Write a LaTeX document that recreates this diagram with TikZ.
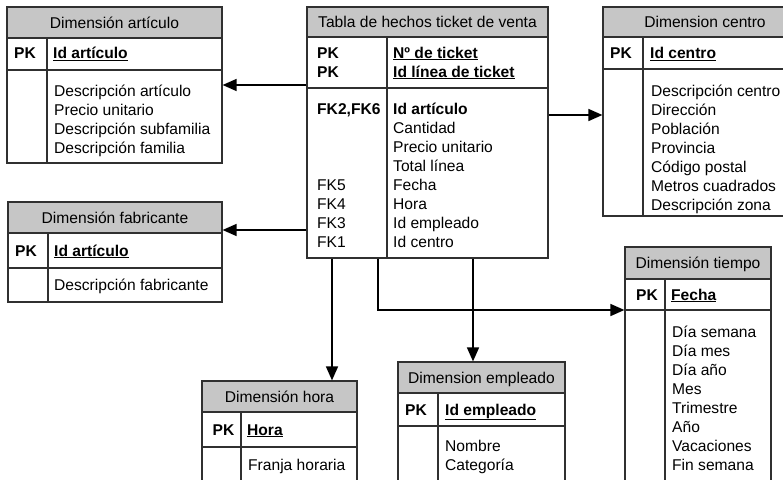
\documentclass[tikz,border=0pt]{standalone}
\usepackage{fontspec}
\setmainfont{Liberation Sans}
\usetikzlibrary{arrows.meta,fit}

\definecolor{hdrgray}{HTML}{C6C6C6}
\definecolor{edgegray}{HTML}{303030}

\newcommand{\tabfont}{\fontsize{15.6}{19}\selectfont}
\newcommand{\keyf}[1]{\textbf{\underline{#1}}}

\tikzset{
  tabframe/.style={draw=edgegray, line width=1.2pt, rectangle, inner sep=0pt},
  tabline/.style={draw=edgegray, line width=1.2pt},
  hdrfill/.style={fill=hdrgray},
  hdrtext/.style={anchor=base, inner sep=0pt, font=\tabfont},
  rowtext/.style={anchor=base west, inner sep=0pt, font=\tabfont},
  link/.style={draw=black, line width=1.5pt, -{Triangle[length=14pt,width=12pt]}}
}

% table frame: name, left, right, top, header bottom, key bottom, bottom, divider
\newcommand{\ertab}[8]{%
  \path[hdrfill] (#2,#4) rectangle (#3,#5);
  \node[tabframe, fit={(#2,#4) (#3,#7)}] (#1) {};
  \draw[tabline] (#2,#5) -- (#3,#5) (#2,#6) -- (#3,#6) (#8,#5) -- (#8,#7);
}

% stacked rows of text: prefix, x, first baseline, list
\newcommand{\tabrows}[4]{%
  \foreach \txt [count=\i] in {#4} {
    \node[rowtext] (#1-\i) at (#2, {#3+19*(\i-1)}) {\txt};
  }%
}

\begin{document}
\begin{tikzpicture}[x=1pt,y=-1pt]
\path[use as bounding box, clip] (0,0) rectangle (783,479);
\fill[white] (0,0) rectangle (783,479);

% ---------- fact table ----------
\ertab{fact}{307}{548}{7}{37}{88}{258}{387}
\node[hdrtext] (fact-h) at (427.5,27.6) {Tabla de hechos ticket de venta};
\tabrows{factpk}{317}{58}{\textbf{PK},\textbf{PK}}
\tabrows{factkey}{393}{58}{\keyf{Nº de ticket},\keyf{Id línea de ticket}}
\node[rowtext] (fact-fk26) at (317,114.5) {\textbf{FK2,FK6}};
\tabrows{factfk}{317}{190.5}{FK5,FK4,FK3,FK1}
\tabrows{factcol}{393}{114.5}{\textbf{Id artículo},Cantidad,Precio unitario,Total línea,Fecha,Hora,Id empleado,Id centro}

% ---------- Dimensión artículo ----------
\ertab{art}{7}{222}{7}{38}{70}{163}{47}
\node[hdrtext] (art-h) at (114.5,28) {Dimensión artículo};
\node[rowtext] (art-pk) at (14,58.5) {\textbf{PK}};
\node[rowtext] (art-key) at (53,58.5) {\keyf{Id artículo}};
\tabrows{artcol}{54}{96}{Descripción artículo,Precio unitario,Descripción subfamilia,Descripción familia}

% ---------- Dimensión fabricante ----------
\ertab{fab}{8}{222}{202}{233}{268}{302}{48}
\node[hdrtext] (fab-h) at (115,223) {Dimensión fabricante};
\node[rowtext] (fab-pk) at (15,256) {\textbf{PK}};
\node[rowtext] (fab-key) at (54,256) {\keyf{Id artículo}};
\tabrows{fabcol}{54}{290.6}{Descripción fabricante}

% ---------- Dimension centro ----------
\ertab{cen}{603}{807}{7}{37}{69}{216}{643}
\node[hdrtext] (cen-h) at (705,27.6) {Dimension centro};
\node[rowtext] (cen-pk) at (610,58.5) {\textbf{PK}};
\node[rowtext] (cen-key) at (650,58.5) {\keyf{Id centro}};
\tabrows{cencol}{651}{96.5}{Descripción centro,Dirección,Población,Provincia,Código postal,Metros cuadrados,Descripción zona}

% ---------- Dimensión tiempo ----------
\ertab{tie}{625}{771}{247}{279}{310}{495}{665}
\node[hdrtext] (tie-h) at (698,268.6) {Dimensión tiempo};
\node[rowtext] (tie-pk) at (636,300) {\textbf{PK}};
\node[rowtext] (tie-key) at (671,300) {\keyf{Fecha}};
\tabrows{tiecol}{672}{337.5}{Día semana,Día mes,Día año,Mes,Trimestre,Año,Vacaciones,Fin semana}

% ---------- Dimensión hora ----------
\ertab{hora}{202}{357}{381}{412}{447}{495}{241}
\node[hdrtext] (hora-h) at (279.5,402) {Dimensión hora};
\node[rowtext] (hora-pk) at (212.5,435) {\textbf{PK}};
\node[rowtext] (hora-key) at (247,435) {\keyf{Hora}};
\tabrows{horacol}{248}{470.5}{Franja horaria}

% ---------- Dimension empleado ----------
\ertab{emp}{398}{565}{362}{393}{426}{495}{438}
\node[hdrtext] (emp-h) at (481.5,383) {Dimension empleado};
\node[rowtext] (emp-pk) at (405,415) {\textbf{PK}};
\node[rowtext] (emp-key) at (445,415) {\keyf{Id empleado}};
\tabrows{empcol}{445}{451.5}{Nombre,Categoría}

% ---------- connectors ----------
\coordinate (yart) at (0,85);
\coordinate (yfab) at (0,230);
\coordinate (ycen) at (0,115);
\coordinate (ytie) at (0,310);
\coordinate (xhora) at (332,0);
\coordinate (xtie) at (378,0);
\coordinate (xemp) at (473,0);

\draw[link] (fact.west |- yart) -- (art.east |- yart);
\draw[link] (fact.west |- yfab) -- (fab.east |- yfab);
\draw[link] (fact.east |- ycen) -- (cen.west |- ycen);
\draw[link] (fact.south -| xhora) -- (hora.north -| xhora);
\draw[link] (fact.south -| xtie) |- (tie.west |- ytie);
\draw[link] (fact.south -| xemp) -- (emp.north -| xemp);
\end{tikzpicture}
\end{document}
